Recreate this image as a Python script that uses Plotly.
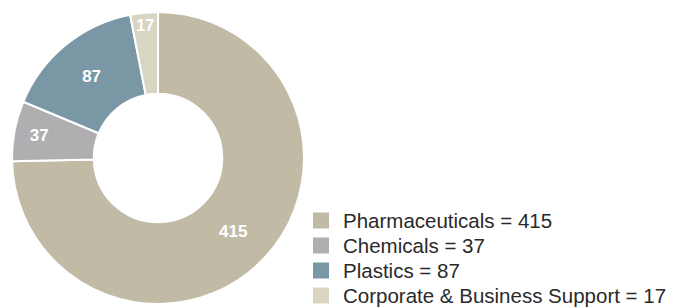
import plotly.graph_objects as go

categories = ["Pharmaceuticals", "Chemicals", "Plastics", "Corporate & Business Support"]
values = [415, 37, 87, 17]
colors = ["#C1BBA6", "#AFAFB1", "#7A97A6", "#D8D5C3"]

W, H = 673, 308

fig = go.Figure(go.Pie(
    labels=categories,
    values=values,
    text=[str(v) for v in values],
    textinfo="text",
    hole=0.44,
    sort=False,
    direction="clockwise",
    rotation=0,
    marker=dict(colors=colors, line=dict(color="white", width=2)),
    textposition="inside",
    insidetextorientation="horizontal",
    textfont=dict(family="Liberation Sans, Arial, sans-serif", size=17, color="white", weight="bold"),
    domain=dict(x=[12/W, 304/W], y=[4/H, 296/H]),
    showlegend=False,
    hoverinfo="label+value",
))

# Legend built from the data (squares + labels)
row0, gap = 220.5, 25.0
for i, (c, v, col) in enumerate(zip(categories, values, colors)):
    yc = row0 + i * gap
    fig.add_shape(type="rect", xref="paper", yref="paper",
                  x0=313/W, x1=329/W, y0=1-(yc+8)/H, y1=1-(yc-8)/H,
                  fillcolor=col, line=dict(width=0))
    fig.add_annotation(xref="paper", yref="paper", x=341/W, y=1-yc/H,
                       xanchor="left", yanchor="middle", showarrow=False,
                       text=f"{c} = {v}",
                       font=dict(family="Liberation Sans, Arial, sans-serif", size=20.5, color="#2a2a2a"))

fig.update_layout(
    width=W, height=H,
    margin=dict(l=0, r=0, t=0, b=0),
    paper_bgcolor="white",
    plot_bgcolor="white",
    showlegend=False,
)

fig.write_html("out.html", config={"displayModeBar": False},
               post_script="document.body.style.margin='0px';")
